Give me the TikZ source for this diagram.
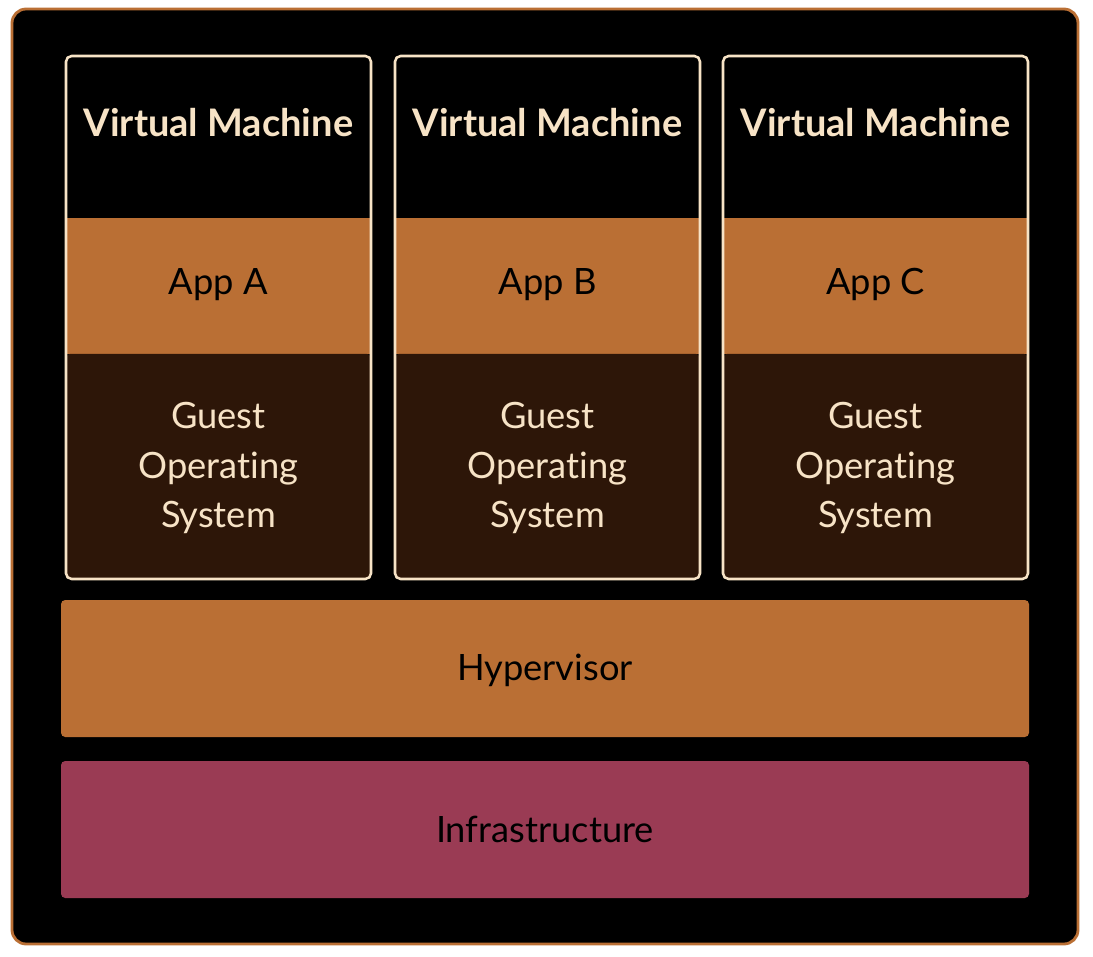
\documentclass[tikz,border=0pt]{standalone}
\usepackage{fontspec}
\setmainfont[Ligatures=NoCommon]{Lato}
\usepackage{xcolor}
\definecolor{rust}{HTML}{BA6F34}
\definecolor{cream}{HTML}{F7E3C6}
\definecolor{osbrown}{HTML}{2D1608}
\definecolor{infrared}{HTML}{9A3B54}

\begin{document}
\begin{tikzpicture}[x=0.025cm,y=-0.025cm]
        \useasboundingbox (0,0) rectangle (1093,957);
        \draw [rust, fill=black, line width=2pt, rounded corners=10pt] (12,9) rectangle (1078,944);
        % first machine
        \fill [rust] (66,218) rectangle (370,354);
        \fill [osbrown, rounded corners=2pt] (67,354) rectangle (370,578);
        \draw [cream, line width=1.8pt, rounded corners=4pt] (66,56) rectangle (371,579);
        \node [cream, anchor=base, font=\fontsize{27}{30}\selectfont\bfseries] (vmA) at (218.5,137) {Virtual Machine};
        \node [anchor=base, font=\fontsize{25.8}{30}\selectfont] (appA) at (218.5,295) {App A};
        \node [cream, align=center, font=\fontsize{25.8}{35.5}\selectfont] (osA) at (218.5,468) {Guest\\Operating\\System};
        % second machine
        \fill [rust] (395,218) rectangle (699,354);
        \fill [osbrown, rounded corners=2pt] (396,354) rectangle (699,578);
        \draw [cream, line width=1.8pt, rounded corners=4pt] (395,56) rectangle (700,579);
        \node [cream, anchor=base, font=\fontsize{27}{30}\selectfont\bfseries] (vmB) at (547.5,137) {Virtual Machine};
        \node [anchor=base, font=\fontsize{25.8}{30}\selectfont] (appB) at (547.5,295) {App B};
        \node [cream, align=center, font=\fontsize{25.8}{35.5}\selectfont] (osB) at (547.5,468) {Guest\\Operating\\System};
        % third machine
        \fill [rust] (723,218) rectangle (1027,354);
        \fill [osbrown, rounded corners=2pt] (724,354) rectangle (1027,578);
        \draw [cream, line width=1.8pt, rounded corners=4pt] (723,56) rectangle (1028,579);
        \node [cream, anchor=base, font=\fontsize{27}{30}\selectfont\bfseries] (vmC) at (875.5,137) {Virtual Machine};
        \node [anchor=base, font=\fontsize{25.8}{30}\selectfont] (appC) at (875.5,295) {App C};
        \node [cream, align=center, font=\fontsize{25.8}{35.5}\selectfont] (osC) at (875.5,468) {Guest\\Operating\\System};
        % lower layers
        \fill [rust, rounded corners=3pt] (61,600) rectangle (1029,737);
        \node [anchor=base, font=\fontsize{25.8}{30}\selectfont] (hyper) at (545,680) {Hypervisor};
        \fill [infrared, rounded corners=3pt] (61,761) rectangle (1029,898);
        \node [anchor=base, font=\fontsize{25.8}{30}\selectfont] (infra) at (545,842) {Infrastructure};
    \end{tikzpicture}
\end{document}
